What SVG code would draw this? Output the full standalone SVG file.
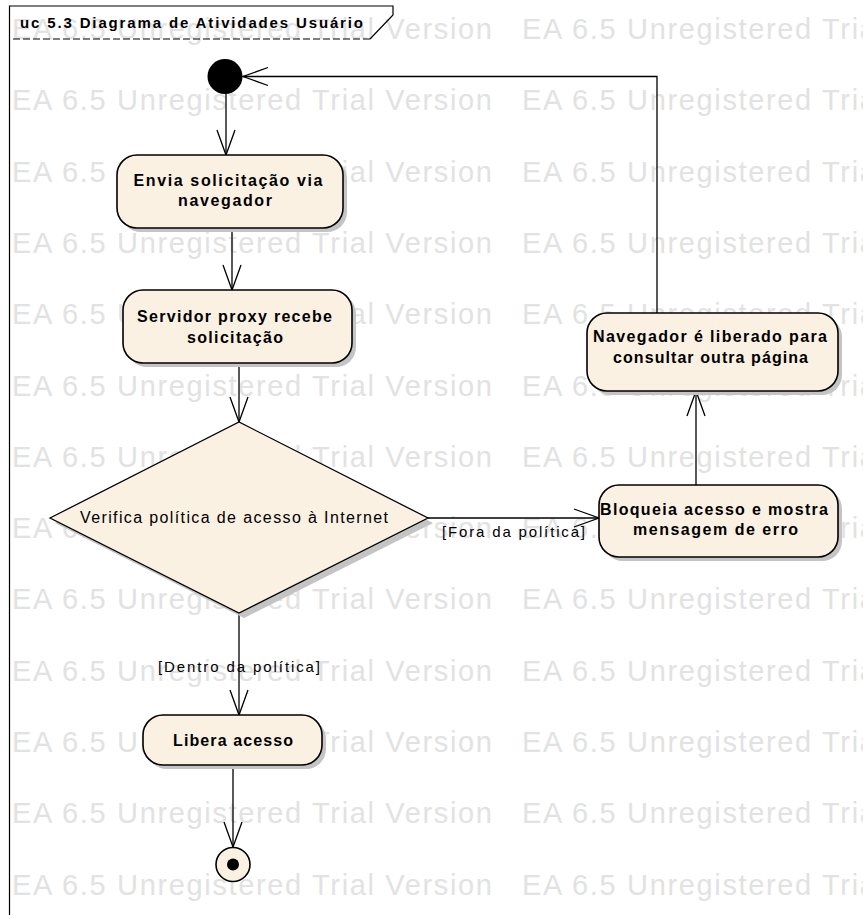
<svg xmlns="http://www.w3.org/2000/svg" width="863" height="915" viewBox="0 0 863 915">
<defs>
<style>
.wm{font-family:"Liberation Sans",Arial,sans-serif;font-size:29px;fill:#E2E2E2}
.tt{font-family:"Liberation Sans",Arial,sans-serif;font-size:15px;font-weight:bold;fill:#000}
.nt{font-family:"Liberation Sans",Arial,sans-serif;font-size:16px;font-weight:bold;fill:#000;text-anchor:middle}
.lt{font-family:"Liberation Sans",Arial,sans-serif;font-size:15px;fill:#000;text-anchor:middle}
.dt{font-family:"Liberation Sans",Arial,sans-serif;font-size:16px;fill:#000;text-anchor:middle}
.box{fill:#FBF1E3;stroke:#000;stroke-width:1.6}
.sh{fill:#C4C4C4}
.cn{fill:none;stroke:#000;stroke-width:1.3}
.fr{fill:none;stroke:#000;stroke-width:1.2}
</style>
<marker id="arr" markerUnits="userSpaceOnUse" markerWidth="28" markerHeight="22" viewBox="0 0 28 22" refX="26" refY="11" orient="auto"><path d="M1,2 L26,11 L1,20" fill="none" stroke="#000" stroke-width="1.3"/></marker>
</defs>
<rect x="0" y="0" width="863" height="915" fill="#FFFFFF"/>
<g id="watermark">
<text class="wm" x="12" y="39" textLength="480">EA 6.5 Unregistered Trial Version</text><text class="wm" x="522" y="39" textLength="480">EA 6.5 Unregistered Trial Version</text>
<text class="wm" x="12" y="110" textLength="480">EA 6.5 Unregistered Trial Version</text><text class="wm" x="522" y="110" textLength="480">EA 6.5 Unregistered Trial Version</text>
<text class="wm" x="12" y="182" textLength="480">EA 6.5 Unregistered Trial Version</text><text class="wm" x="522" y="182" textLength="480">EA 6.5 Unregistered Trial Version</text>
<text class="wm" x="12" y="253" textLength="480">EA 6.5 Unregistered Trial Version</text><text class="wm" x="522" y="253" textLength="480">EA 6.5 Unregistered Trial Version</text>
<text class="wm" x="12" y="324" textLength="480">EA 6.5 Unregistered Trial Version</text><text class="wm" x="522" y="324" textLength="480">EA 6.5 Unregistered Trial Version</text>
<text class="wm" x="12" y="396" textLength="480">EA 6.5 Unregistered Trial Version</text><text class="wm" x="522" y="396" textLength="480">EA 6.5 Unregistered Trial Version</text>
<text class="wm" x="12" y="467" textLength="480">EA 6.5 Unregistered Trial Version</text><text class="wm" x="522" y="467" textLength="480">EA 6.5 Unregistered Trial Version</text>
<text class="wm" x="12" y="538" textLength="480">EA 6.5 Unregistered Trial Version</text><text class="wm" x="522" y="538" textLength="480">EA 6.5 Unregistered Trial Version</text>
<text class="wm" x="12" y="609" textLength="480">EA 6.5 Unregistered Trial Version</text><text class="wm" x="522" y="609" textLength="480">EA 6.5 Unregistered Trial Version</text>
<text class="wm" x="12" y="681" textLength="480">EA 6.5 Unregistered Trial Version</text><text class="wm" x="522" y="681" textLength="480">EA 6.5 Unregistered Trial Version</text>
<text class="wm" x="12" y="752" textLength="480">EA 6.5 Unregistered Trial Version</text><text class="wm" x="522" y="752" textLength="480">EA 6.5 Unregistered Trial Version</text>
<text class="wm" x="12" y="823" textLength="480">EA 6.5 Unregistered Trial Version</text><text class="wm" x="522" y="823" textLength="480">EA 6.5 Unregistered Trial Version</text>
<text class="wm" x="12" y="895" textLength="480">EA 6.5 Unregistered Trial Version</text><text class="wm" x="522" y="895" textLength="480">EA 6.5 Unregistered Trial Version</text>
</g>
<g id="frame">
<path class="fr" d="M9.5,915 L9.5,6 L393,6 L393,15 L370,39"/>
<path class="fr" d="M370,39 L9.5,39" stroke-dasharray="7,3"/>
<text class="tt" x="20" y="28" textLength="343">uc 5.3 Diagrama de Atividades Usuário</text>
</g>
<g id="connectors">
<path class="cn" d="M226,94 L226,155" marker-end="url(#arr)"/>
<path class="cn" d="M232,228 L232,290" marker-end="url(#arr)"/>
<path class="cn" d="M239,363 L239,422" marker-end="url(#arr)"/>
<path class="cn" d="M428,518 L599,518" marker-end="url(#arr)"/>
<path class="cn" d="M696,485 L696,391" marker-end="url(#arr)"/>
<path class="cn" d="M657,313 L657,76.5 L243,76.5" marker-end="url(#arr)"/>
<path class="cn" d="M239,613 L239,715" marker-end="url(#arr)"/>
<path class="cn" d="M233,765 L233,847" marker-end="url(#arr)"/>
<text class="lt" x="513.5" y="537" textLength="143">[Fora da política]</text>
<text class="lt" x="239" y="672" textLength="162">[Dentro da política]</text>
</g>
<g id="start">
<circle cx="225" cy="76.5" r="17.5" fill="#000"/>
</g>
<g id="n1">
<rect class="sh" x="121" y="159" width="226" height="73" rx="20"/>
<rect class="box" x="117" y="155" width="226" height="73" rx="20"/>
<text class="nt" x="228" y="186" textLength="189">Envia solicitação via</text>
<text class="nt" x="225" y="206" textLength="94">navegador</text>
</g>
<g id="n2">
<rect class="sh" x="127" y="294" width="229" height="73" rx="20"/>
<rect class="box" x="123" y="290" width="229" height="73" rx="20"/>
<text class="nt" x="234.5" y="322" textLength="195">Servidor proxy recebe</text>
<text class="nt" x="235" y="343" textLength="96">solicitação</text>
</g>
<g id="decision">
<polygon class="sh" points="55,523 244,427 433,523 244,618"/>
<polygon class="box" points="50,518 239,422 428,518 239,613" style="stroke-width:1.3"/>
<text class="dt" x="234" y="523" textLength="308">Verifica política de acesso à Internet</text>
</g>
<g id="n3">
<rect class="sh" x="591" y="317" width="251" height="78" rx="20"/>
<rect class="box" x="587" y="313" width="251" height="78" rx="20"/>
<text class="nt" x="710" y="342" textLength="234">Navegador é liberado para</text>
<text class="nt" x="710.5" y="363" textLength="195">consultar outra página</text>
</g>
<g id="n4">
<rect class="sh" x="603" y="489" width="239" height="72" rx="20"/>
<rect class="box" x="599" y="485" width="239" height="72" rx="20"/>
<text class="nt" x="714" y="515" textLength="228">Bloqueia acesso e mostra</text>
<text class="nt" x="715.5" y="535" textLength="165">mensagem de erro</text>
</g>
<g id="n5">
<rect class="sh" x="147" y="719" width="179" height="50" rx="20"/>
<rect class="box" x="143" y="715" width="179" height="50" rx="20"/>
<text class="nt" x="233" y="746" textLength="120">Libera acesso</text>
</g>
<g id="end">
<circle cx="233" cy="864.5" r="17" fill="#FBF1E3" stroke="#000" stroke-width="1.6"/>
<circle cx="233" cy="864.5" r="6" fill="#000"/>
</g>
</svg>
